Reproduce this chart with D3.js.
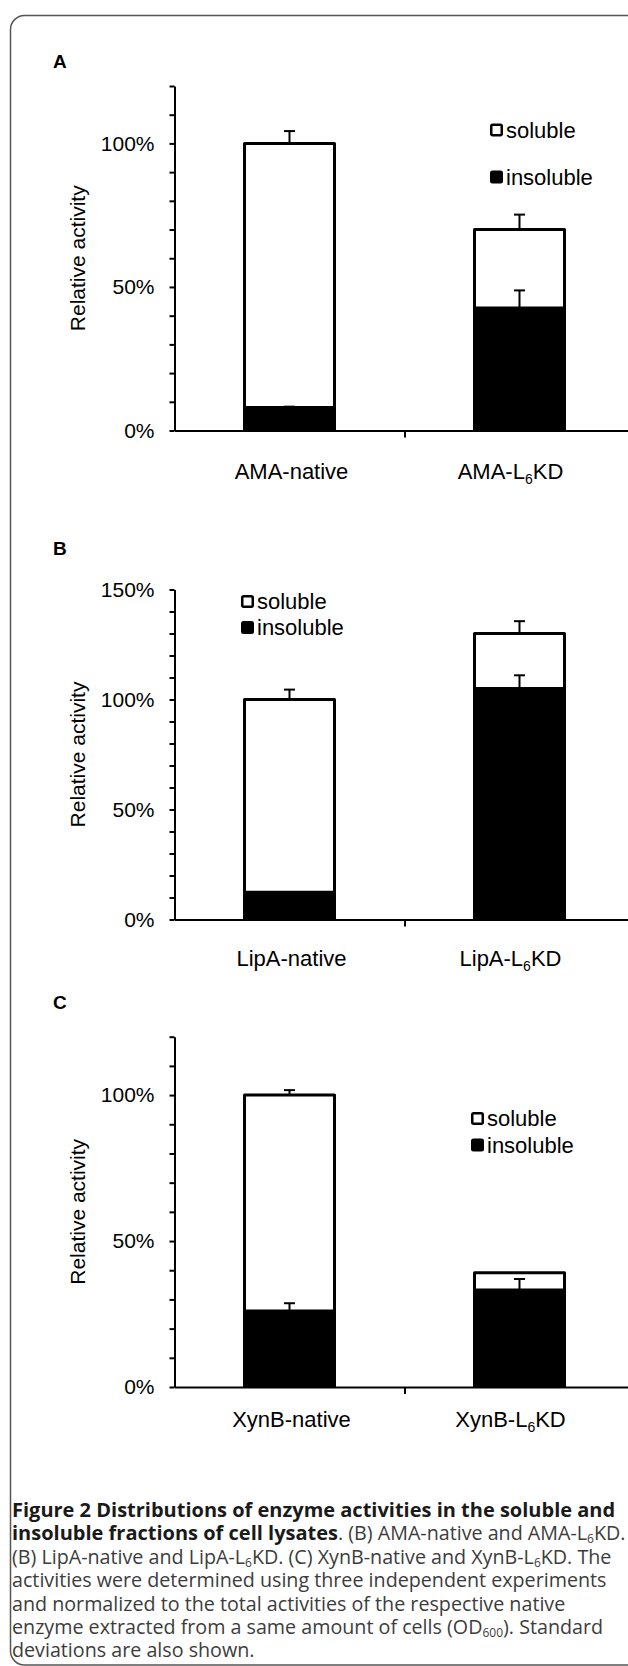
<!DOCTYPE html>
<html>
<head>
<meta charset="utf-8">
<script src="https://cdn.jsdelivr.net/npm/d3@7"></script>
<style>
  body { margin: 0; background: #fff; }
  svg { display: block; }
  .chart text { font-family: "Liberation Sans", Arial, sans-serif; fill: #000; }
  .caption { font-family: "Open Sans", sans-serif; font-size: 19.7px; }
</style>
</head>
<body>
<svg id="fig" width="628" height="1666"></svg>
<script>
// Panel A - amylase (AMA)
const catsA = ["AMA-native", "AMA-L_6KD"];
const totalA = [100, 70];        // soluble + insoluble (%)
const insolA = [8, 42.7];        // insoluble part (%)
const totalErrA = [4.3, 5.2];
const insolErrA = [0.3, 6.1];

// Panel B - lipase (LipA)
const catsB = ["LipA-native", "LipA-L_6KD"];
const totalB = [100, 130];
const insolB = [12.4, 105];
const totalErrB = [4.5, 5.6];
const insolErrB = [0, 6];

// Panel C - xylanase (XynB)
const catsC = ["XynB-native", "XynB-L_6KD"];
const totalC = [100, 39.1];
const insolC = [26, 33.2];
const totalErrC = [1.7, 0];
const insolErrC = [2.7, 3.8];

const legendLabels = ["soluble", "insoluble"];

// layout of each panel (pixels)
const panels = [
  { letter: "A", letterY: 68, cats: catsA, total: totalA, insol: insolA, totalErr: totalErrA, insolErr: insolErrA,
    yMax: 120, yBottom: 430.5, yTop: 86, legendX: 490, legendY: [130, 177], labelDy: 48 },
  { letter: "B", letterY: 555, cats: catsB, total: totalB, insol: insolB, totalErr: totalErrB, insolErr: insolErrB,
    yMax: 150, yBottom: 919.5, yTop: 589.5, legendX: 241, legendY: [601.5, 627.5], labelDy: 46 },
  { letter: "C", letterY: 1009, cats: catsC, total: totalC, insol: insolC, totalErr: totalErrC, insolErr: insolErrC,
    yMax: 120, yBottom: 1387, yTop: 1036.7, legendX: 471, legendY: [1118.5, 1145], labelDy: 40 }
];

const svg = d3.select("#fig");

// rounded frame around the figure (right side runs off the page)
svg.append("rect")
  .attr("x", 10.5).attr("y", 15.5)
  .attr("width", 700).attr("height", 1649.5)
  .attr("rx", 14)
  .attr("fill", "none")
  .attr("stroke", "#555")
  .attr("stroke-width", 1.5);

const chart = svg.append("g").attr("class", "chart");

const xLeft = 174.5, xRight = 634.5;
const barW = 93;

// write "AMA-L_6KD" with a real subscript
function labelWithSub(sel, str, small) {
  const parts = str.split("_");
  sel.append("tspan").text(parts[0]);
  if (parts.length > 1) {
    sel.append("tspan").attr("font-size", small).attr("dy", 5).text(parts[1][0]);
    sel.append("tspan").attr("dy", -5).text(parts[1].slice(1));
  }
}

panels.forEach(p => {
  const g = chart.append("g");

  const y = d3.scaleLinear().domain([0, p.yMax]).range([p.yBottom, p.yTop]);
  const x = d3.scaleBand().domain(p.cats).range([xLeft, xRight]);
  const xEdge = d3.scaleLinear().domain([0, p.cats.length]).range([xLeft, xRight]);

  // panel letter
  g.append("text")
    .attr("x", 53).attr("y", p.letterY)
    .attr("font-size", 19).attr("font-weight", "bold")
    .text(p.letter);

  // y axis
  const yAxis = g.append("g")
    .attr("transform", `translate(${xLeft},0)`)
    .call(d3.axisLeft(y)
      .tickValues(d3.range(0, p.yMax + 1, 10))
      .tickSize(5).tickSizeOuter(0).tickPadding(15)
      .tickFormat(d => d % 50 === 0 ? d + "%" : ""));
  yAxis.selectAll("text").attr("font-size", 21).attr("font-family", null).style("fill", "#000");
  yAxis.selectAll("path, line").attr("stroke", "#000").attr("stroke-width", 2);

  // y axis title
  g.append("text")
    .attr("transform", `translate(85,${(p.yBottom + p.yTop) / 2}) rotate(-90)`)
    .attr("text-anchor", "middle")
    .attr("font-size", 21)
    .text("Relative activity");

  // bars: soluble part on top of insoluble part
  p.cats.forEach((c, i) => {
    const cx = x(c) + x.bandwidth() / 2;
    g.append("rect")
      .attr("x", cx - barW / 2 + 1.5)
      .attr("y", y(p.total[i]))
      .attr("width", barW - 3)
      .attr("height", y(p.insol[i]) - y(p.total[i]))
      .attr("fill", "#fff")
      .attr("stroke", "#000")
      .attr("stroke-width", 3)
      .attr("stroke-linejoin", "round");
    g.append("rect")
      .attr("x", cx - barW / 2)
      .attr("y", y(p.insol[i]))
      .attr("width", barW)
      .attr("height", y(0) - y(p.insol[i]))
      .attr("fill", "#000");

    // error bars (upper half only)
    [[p.total[i], p.totalErr[i]], [p.insol[i], p.insolErr[i]]].forEach(([v, e]) => {
      if (!e) return;
      const eb = g.append("g").attr("stroke", "#000").attr("stroke-width", 2);
      eb.append("line").attr("x1", cx).attr("x2", cx).attr("y1", y(v)).attr("y2", y(v + e));
      eb.append("line").attr("x1", cx - 5.5).attr("x2", cx + 5.5).attr("y1", y(v + e)).attr("y2", y(v + e));
    });
  });

  // x axis with a tick between the categories
  const xAxis = g.append("g")
    .attr("transform", `translate(0,${p.yBottom})`)
    .call(d3.axisBottom(xEdge).tickValues(d3.range(1, p.cats.length)).tickSize(7).tickSizeOuter(0).tickFormat(""));
  xAxis.selectAll("path, line").attr("stroke", "#000").attr("stroke-width", 2);

  // category labels
  p.cats.forEach((c, i) => {
    const t = g.append("text")
      .attr("x", x(c) + x.bandwidth() / 2 + (i === 1 ? -9 : 2))
      .attr("y", p.yBottom + p.labelDy)
      .attr("text-anchor", "middle")
      .attr("font-size", 22);
    labelWithSub(t, c, 14);
  });

  // legend
  legendLabels.forEach((name, k) => {
    const ly = p.legendY[k];
    if (k === 0) {
      g.append("rect")
        .attr("x", p.legendX + 1.25).attr("y", ly - 5.25)
        .attr("width", 10.5).attr("height", 10.5).attr("rx", 1.5)
        .attr("fill", "#fff").attr("stroke", "#000").attr("stroke-width", 2.5);
    } else {
      g.append("rect")
        .attr("x", p.legendX).attr("y", ly - 6.5)
        .attr("width", 13).attr("height", 13).attr("rx", 2.5)
        .attr("fill", "#000");
    }
    g.append("text")
      .attr("x", p.legendX + 16).attr("y", ly + 7.5)
      .attr("font-size", 22)
      .text(name);
  });
});

// figure caption: [text, style] pieces; "b" bold, "r" regular, "s" subscript
const captionLines = [
  [["Figure 2 Distributions of enzyme activities in the soluble and", "b"]],
  [["insoluble fractions of cell lysates", "b"], [". (B) AMA-native and AMA-L", "r"], ["6", "s"], ["KD.", "r"]],
  [["(B) LipA-native and LipA-L", "r"], ["6", "s"], ["KD. (C) XynB-native and XynB-L", "r"], ["6", "s"], ["KD. The", "r"]],
  [["activities were determined using three independent experiments", "r"]],
  [["and normalized to the total activities of the respective native", "r"]],
  [["enzyme extracted from a same amount of cells (OD", "r"], ["600", "s"], ["). Standard", "r"]],
  [["deviations are also shown.", "r"]]
];

const cap = svg.append("g").attr("class", "caption");
captionLines.forEach((line, li) => {
  const t = cap.append("text").attr("x", 12).attr("y", 1517 + li * 23.4);
  let down = false;
  line.forEach(([s, kind]) => {
    const ts = t.append("tspan").text(s);
    if (kind === "b") ts.attr("font-weight", "bold").attr("font-size", 20).attr("fill", "#1a1a1a");
    else ts.attr("fill", "#3c3c3c");
    if (kind === "s") { ts.attr("font-size", 12).attr("dy", 3); down = true; }
    else if (down) { ts.attr("dy", -3); down = false; }
  });
});
</script>
</body>
</html>
